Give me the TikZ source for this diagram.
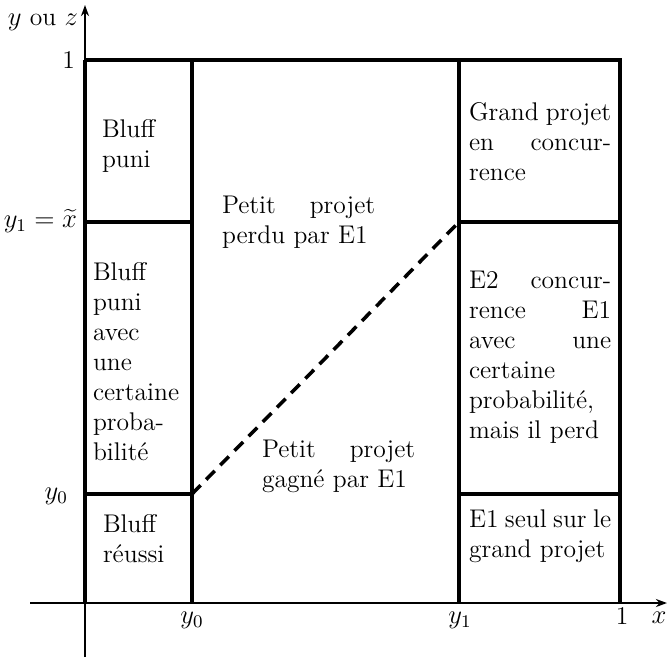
\documentclass[tikz,border=0pt]{standalone}
\usetikzlibrary{arrows.meta}
\newcommand{\jl}[2]{\makebox[#1][s]{#2}}
\begin{document}
\begin{tikzpicture}[x=0.45pt,y=-0.45pt,
  every node/.style={inner sep=0pt,outer sep=0pt,font=\fontsize{11.5}{13.5}\selectfont},
  txt/.style={anchor=base west,align=left},
  lab/.style={anchor=base},
  axis/.style={line width=1pt,-{Stealth[length=5pt,width=3.6pt]}},
  frame/.style={line width=1.5pt},
  dsh/.style={line width=1.6pt,dash pattern=on 5.5pt off 3.6pt}]
\useasboundingbox (0,0) rectangle (668,659);
% axes
\coordinate (ybot) at (85,657);
\coordinate (ytop) at (85,5);
\coordinate (xl) at (30,603);
\coordinate (xr) at (667,603);
\draw[axis] (ybot) -- (ytop);
\draw[axis] (xl) -- (xr);
% frame
\coordinate (TL) at (85,60);
\coordinate (TR) at (620,60);
\coordinate (BR) at (620,603);
\coordinate (A0) at (192,60);
\coordinate (A1) at (192,603);
\coordinate (B0) at (459,60);
\coordinate (B1) at (459,603);
\draw[frame] (TL) -- (TR) -- (BR);
\draw[frame] (TL) -- (85,603);
\draw[frame] (A0) -- (A1);
\draw[frame] (B0) -- (B1);
\draw[frame] (85,222) -- (192,222);
\draw[frame] (85,494) -- (192,494);
\draw[frame] (459,222) -- (620,222);
\draw[frame] (459,494) -- (620,494);
\coordinate (P0) at (192,494);
\coordinate (P1) at (459,222);
\draw[dsh] (P0) -- (P1);
% axis labels
\node[anchor=base east] (lyz) at (78,25) {$y$ ou $z$};
\node[anchor=base east] (l1) at (75,68) {1};
\node[anchor=base east] (ly1) at (77,227) {$y_1=\widetilde{x}$};
\node[anchor=base east] (ly0) at (68,499) {$y_0$};
\node[lab] (by0) at (192,623) {$y_0$};
\node[lab] (by1) at (460,623) {$y_1$};
\node[lab] (b1) at (622,624) {1};
\node[lab] (bx) at (659,623) {$x$};
% region texts (anchor = baseline of last line)
\node[txt] (t1) at (102,167) {Bluff\\puni};
\node[txt] (t2) at (93,460) {Bluff\\puni\\avec\\une\\certaine\\proba-\\bilité};
\node[txt] (t3) at (103,562) {Bluff\\réussi};
\node[txt] (t4) at (222,243) {\jl{68.9pt}{Petit projet}\\perdu par E1};
\node[txt] (t5) at (262,487) {\jl{68.9pt}{Petit projet}\\gagné par E1};
\node[txt] (t6) at (469,180) {\jl{64pt}{Grand projet}\\\jl{64pt}{en concur-}\\rence};
\node[txt] (t7) at (469,438) {\jl{64pt}{E2 concur-}\\\jl{64pt}{rence E1}\\\jl{64pt}{avec une}\\certaine\\probabilité,\\mais il perd};
\node[txt] (t8) at (469,557) {\jl{64pt}{E1 seul sur le}\\grand projet};
\end{tikzpicture}
\end{document}
